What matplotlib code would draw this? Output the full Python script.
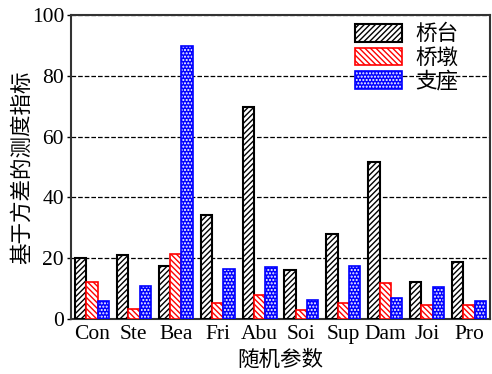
import numpy as np
import matplotlib
matplotlib.use('Agg')
import matplotlib.pyplot as plt

plt.rcParams['font.family'] = ['Liberation Serif', 'Noto Sans CJK SC']
plt.rcParams['hatch.linewidth'] = 1.0

# data
params = ['Con', 'Ste', 'Bea', 'Fri', 'Abu', 'Soi', 'Sup', 'Dam', 'Joi', 'Pro']
abutment = [20.2, 21.0, 17.5, 34.3, 69.8, 16.0, 27.9, 51.8, 12.3, 18.9]
pier = [12.3, 3.2, 21.5, 5.2, 7.9, 2.9, 5.2, 11.7, 4.6, 4.6]
bearing = [6.0, 11.0, 89.9, 16.3, 17.0, 6.4, 17.3, 6.8, 10.4, 5.9]
labels = ['桥台', '桥墩', '支座']

fig = plt.figure(figsize=(4.92, 3.74), dpi=100)
ax = fig.add_axes([71 / 492, 1 - 319 / 374, 419 / 492, 304 / 374])

x = np.arange(len(params))
w = 0.27
b1 = ax.bar(x - w, abutment, w, facecolor='white', edgecolor='black',
            hatch='//////', linewidth=1.5, zorder=3)
b2 = ax.bar(x, pier, w, facecolor='white', edgecolor='red',
            hatch='\\\\\\\\\\\\', linewidth=1.2, zorder=3)
# blue bars: white dot hatch on blue fill, outline drawn on top
b3f = ax.bar(x + w, bearing, w, facecolor='blue', edgecolor='white',
             hatch='.....', linewidth=0, zorder=3)
b3e = ax.bar(x + w, bearing, w, fill=False, edgecolor='blue',
             linewidth=1.2, zorder=4)

ax.set_xlim(-0.5, 9.5)
ax.set_ylim(0, 100)
ax.set_xticks(x)
ax.set_xticklabels(params)
ax.set_yticks([0, 20, 40, 60, 80, 100])
ax.tick_params(labelsize=15.5, pad=2)
ax.tick_params(axis='x', length=0, pad=4)
ax.tick_params(axis='y', direction='out', length=3, width=1)
ax.yaxis.grid(True, linestyle='--', color='black', linewidth=0.9)
ax.set_axisbelow(True)
for s in ax.spines.values():
    s.set_linewidth(1.5)
    s.set_color('#333333')

ax.set_xlabel('随机参数', fontsize=15.5, labelpad=5)
ax.set_ylabel('基于方差的测度指标', fontsize=15.5, labelpad=-1)

ax.legend([b1, b2, (b3f, b3e)], labels, loc='upper right', frameon=False,
          fontsize=15.5, handlelength=2.2, handleheight=0.9,
          labelspacing=0.1, handletextpad=0.6, borderaxespad=0.3,
          bbox_to_anchor=(0.96, 1.02))

fig.savefig('out.png', dpi=100)
